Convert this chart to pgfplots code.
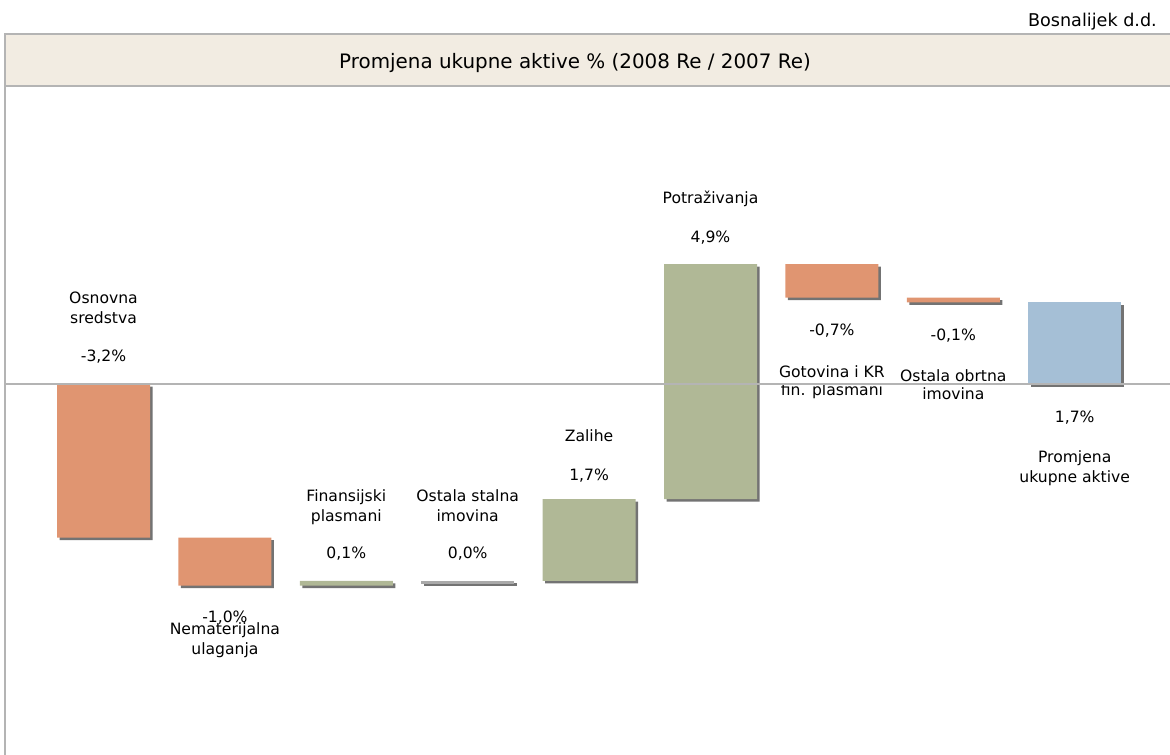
\documentclass[border=0pt]{standalone}
\usepackage{fontspec}
\setmainfont{DejaVu Sans}
\usepackage{pgfplots}
\pgfplotsset{compat=1.18}
\usepackage{pgfplotstable}
\usetikzlibrary{shadows}
\definecolor{ora}{RGB}{224,149,113}
\definecolor{grn}{RGB}{176,184,150}
\definecolor{gry}{RGB}{170,170,170}
\definecolor{blu}{RGB}{165,191,214}
\definecolor{band}{RGB}{242,236,226}
\definecolor{frame}{RGB}{180,180,180}
\definecolor{shd}{RGB}{100,100,100}

% base = level where the bar starts; other columns = signed change
\pgfplotstableread{
x base ora grn gry blu
0  0    -3.2 0   0     0
1 -3.2  -1.0 0   0     0
2 -4.2   0   0.1 0     0
3 -4.1   0   0  -0.06  0
4 -4.1   0   1.7 0     0
5 -2.4   0   4.9 0     0
6  2.5  -0.7 0   0     0
7  1.8  -0.1 0   0     0
8  0     0   0   0     1.7
}\data

\tikzset{
  lab/.style={anchor=base, inner sep=0pt, font=\fontsize{15.6}{19}\selectfont},
  shad/.style={drop shadow={shadow xshift=2.5pt, shadow yshift=-2.5pt, fill=shd, opacity=0.9}}
}
\newcommand{\lab}[3]{\node[lab] at (axis cs:#1,{(384-#2)/48}) {#3};}

\begin{document}
\begin{tikzpicture}
\useasboundingbox (0,0) rectangle (1170pt,755pt);
\fill[band] (5pt,669pt) rectangle (1170pt,721pt);
\draw[frame, line width=1.3pt] (1170pt,721pt) -- (5pt,721pt) -- (5pt,0pt);
\draw[frame, line width=1.3pt] (5pt,669pt) -- (1170pt,669pt);
\node[anchor=base, inner sep=0pt] at (575pt,686.7pt) {\fontsize{19.9}{24}\selectfont Promjena ukupne aktive \% (2008 Re / 2007 Re)};
\node[anchor=base east, inner sep=0pt] at (1157pt,728.3pt) {\fontsize{17.6}{20}\selectfont Bosnalijek d.d.};
\begin{axis}[
  at={(5pt,0pt)}, anchor=south west,
  scale only axis, width=1165pt, height=667pt,
  xmin=-0.8114, xmax=8.785, ymin=-7.729, ymax=6.167,
  axis lines=none, ybar stacked, stack negative=on previous,
  bar width=93pt, clip=false,
]
\draw[frame, line width=1.3pt] (axis cs:-0.8114,0) -- (axis cs:8.785,0);
\addplot[fill=none, draw=none] table[x=x,y=base]{\data};
\addplot[fill=ora, draw=none, shad] table[x=x,y=ora]{\data};
\addplot[fill=grn, draw=none, shad] table[x=x,y=grn]{\data};
\addplot[fill=gry, draw=none, shad] table[x=x,y=gry]{\data};
\addplot[fill=blu, draw=none, shad] table[x=x,y=blu]{\data};

\lab{0}{303}{Osnovna}
\lab{0}{323}{sredstva}
\lab{0}{361}{-3,2\%}
\lab{1}{622}{-1,0\%}
\lab{1}{634}{Nematerijalna}
\lab{1}{654}{ulaganja}
\lab{2}{501}{Finansijski}
\lab{2}{521}{plasmani}
\lab{2}{558}{0,1\%}
\lab{3}{501}{Ostala stalna}
\lab{3}{521}{imovina}
\lab{3}{558}{0,0\%}
\lab{4}{441}{Zalihe}
\lab{4}{480}{1,7\%}
\lab{5}{203}{Potraživanja}
\lab{5}{242}{4,9\%}
\lab{6}{335}{-0,7\%}
\lab{6}{377}{Gotovina i KR}
\lab{6}{395}{fin. plasmani}
\lab{7}{340}{-0,1\%}
\lab{7}{381}{Ostala obrtna}
\lab{7}{399}{imovina}
\lab{8}{422}{1,7\%}
\lab{8}{462}{Promjena}
\lab{8}{482}{ukupne aktive}
\end{axis}
\end{tikzpicture}
\end{document}
